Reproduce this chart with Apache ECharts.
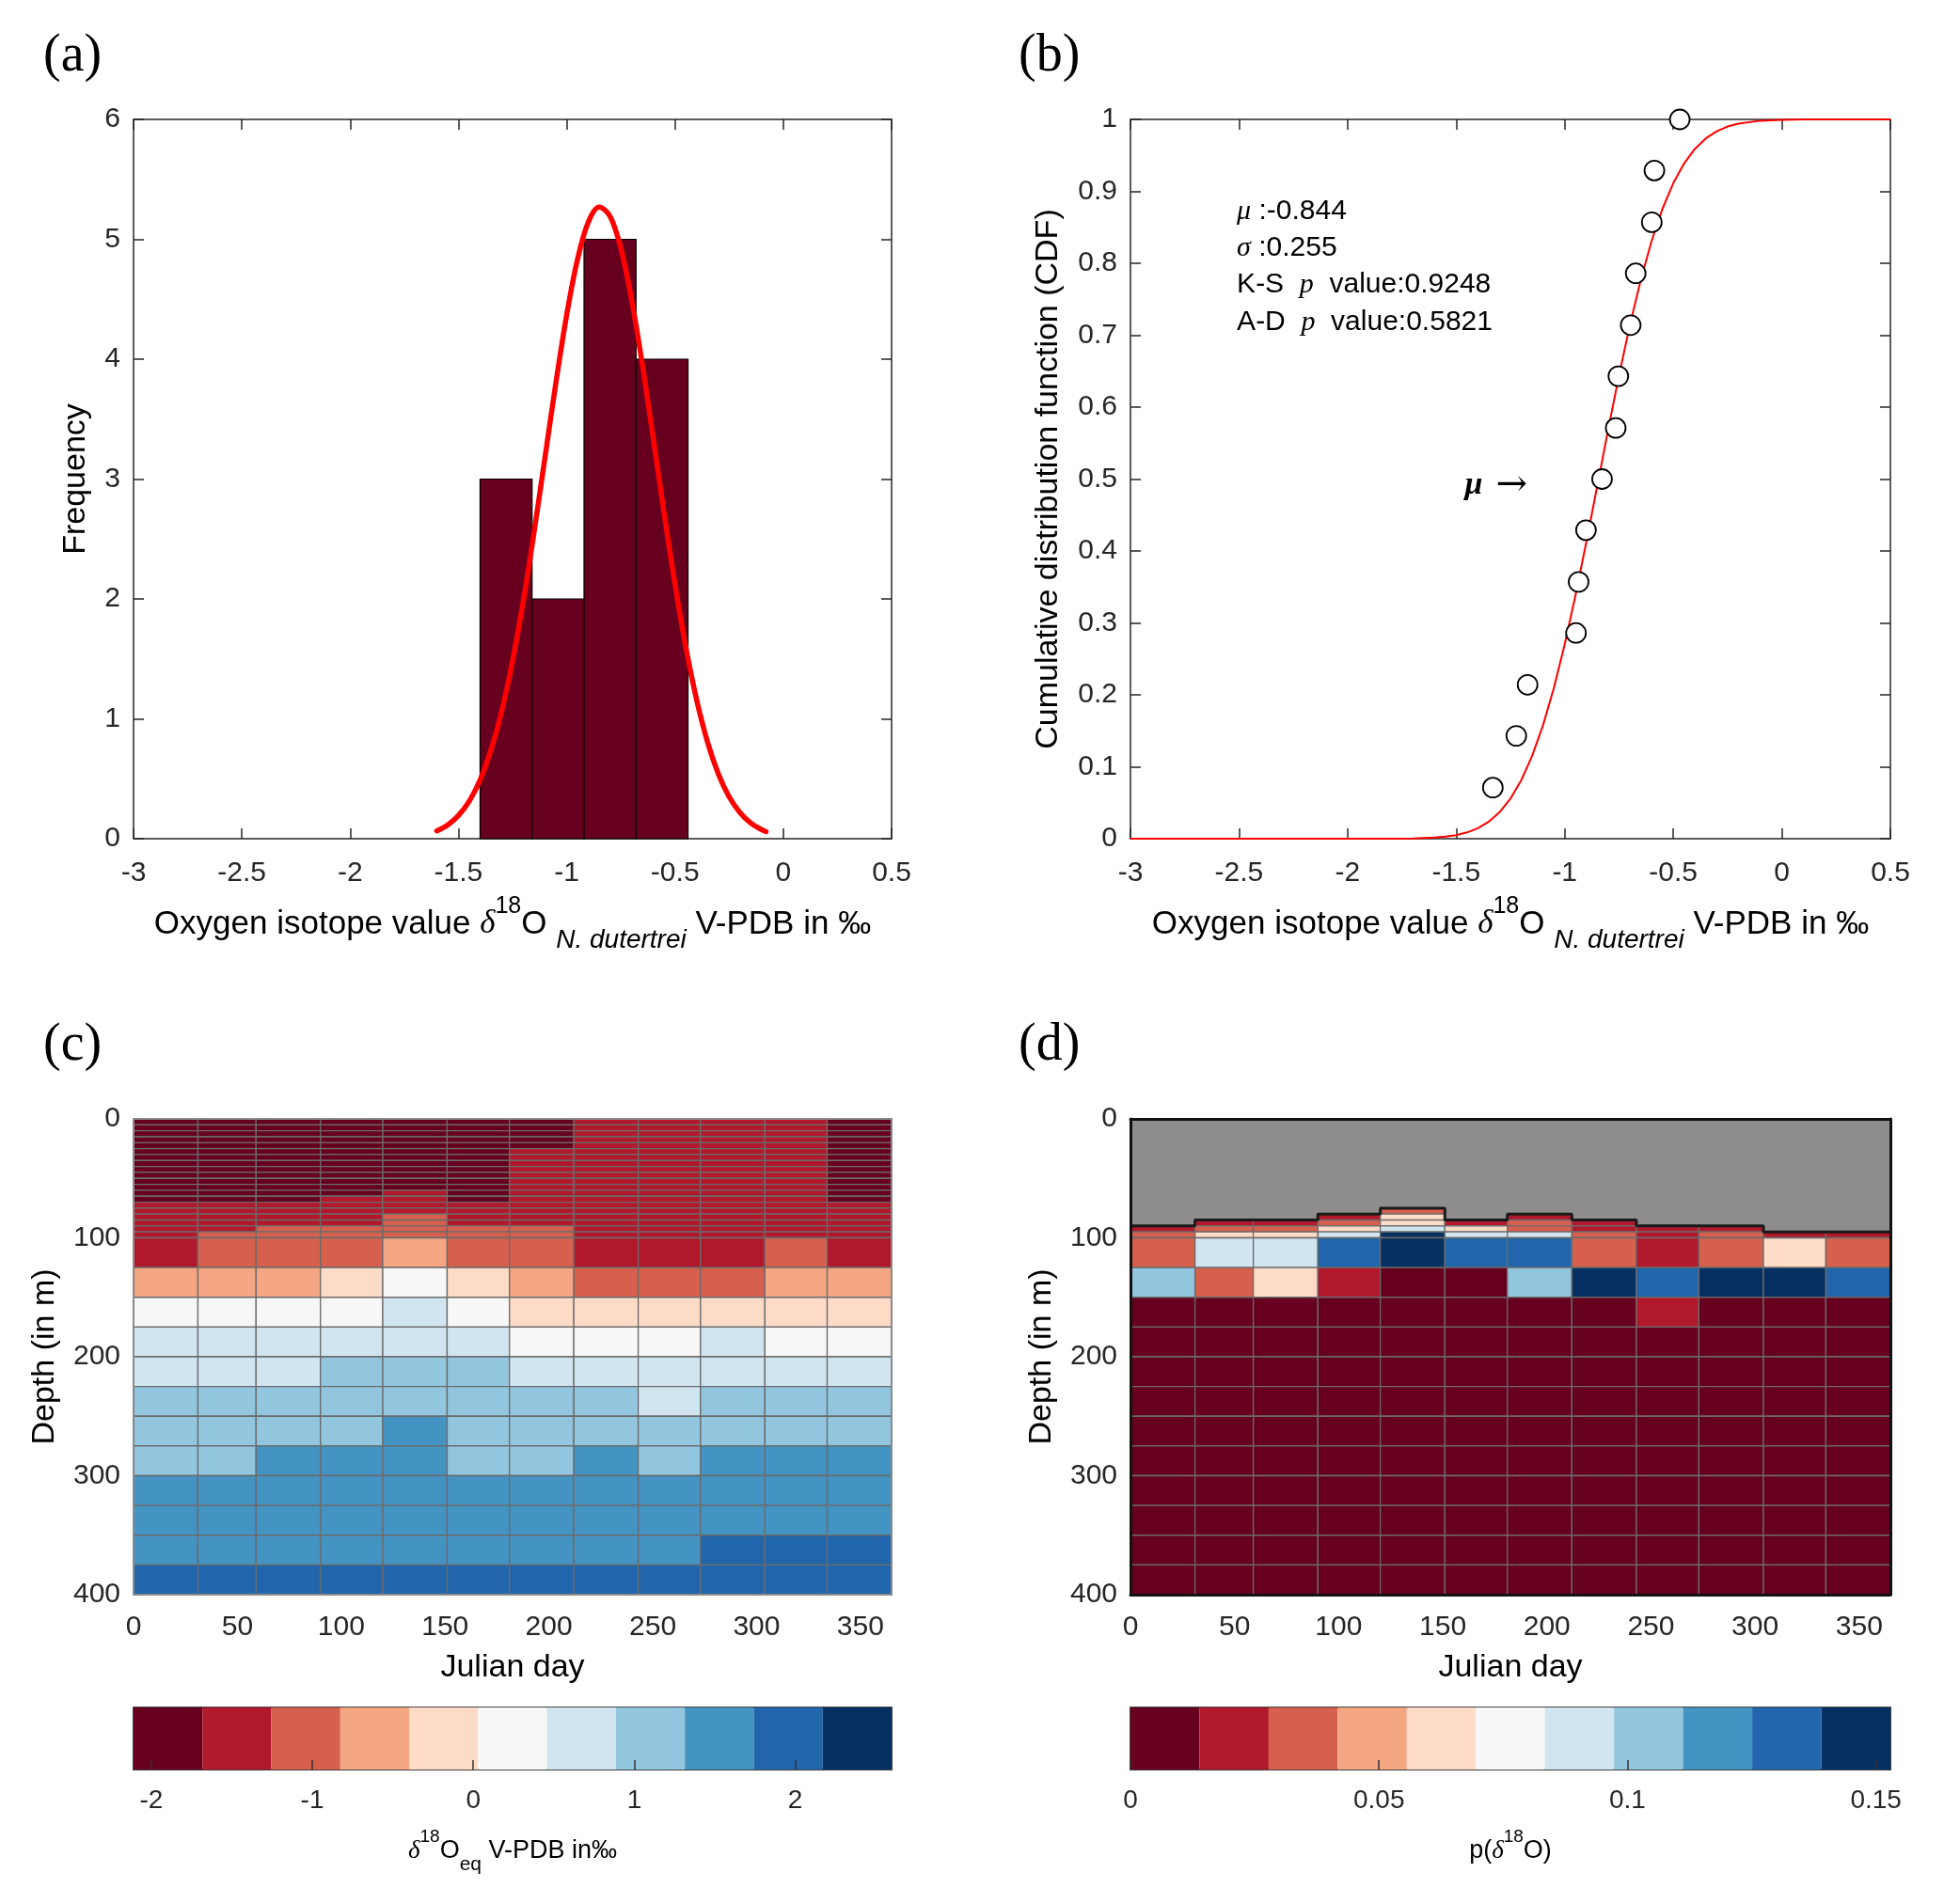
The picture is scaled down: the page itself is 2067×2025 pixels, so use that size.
<!DOCTYPE html>
<html><head><meta charset="utf-8">
<script src="https://cdn.jsdelivr.net/npm/echarts@6/dist/echarts.min.js"></script>
<style>html,body{margin:0;padding:0;background:#fff}#main{width:2067px;height:2025px}</style>
</head><body><div id="main"></div>
<script>
// ================= DATA =================
// (a) histogram of the 14 N. dutertrei measurements
const histEdges = [-1.40, -1.16, -0.92, -0.68, -0.44];
const histCounts = [3, 2, 5, 4];
// (a) fitted normal curve (scaled to counts)
const fitX = [-1.60,-1.55,-1.50,-1.45,-1.40,-1.35,-1.30,-1.25,-1.20,-1.15,-1.10,-1.05,-1.00,-0.95,-0.90,-0.85,-0.80,-0.75,-0.70,-0.65,-0.60,-0.55,-0.50,-0.45,-0.40,-0.35,-0.30,-0.25,-0.20,-0.15,-0.10,-0.08];
const fitY = [0.065,0.114,0.193,0.313,0.489,0.736,1.065,1.485,1.988,2.566,3.184,3.802,4.370,4.834,5.145,5.268,5.192,4.924,4.493,3.946,3.334,2.711,2.121,1.598,1.157,0.807,0.542,0.349,0.218,0.130,0.075,0.059];
// (b) empirical CDF points
const sampleX = [-1.331,-1.223,-1.171,-0.948,-0.936,-0.902,-0.828,-0.765,-0.753,-0.696,-0.673,-0.599,-0.587,-0.470];
const sampleCDF = [0.071,0.143,0.214,0.286,0.357,0.429,0.500,0.571,0.643,0.714,0.786,0.857,0.929,1.000];
// (b) fitted normal CDF curve
const cdfX = [-3,-2,-1.8,-1.7,-1.6,-1.55,-1.5,-1.45,-1.4,-1.35,-1.3,-1.25,-1.2,-1.15,-1.1,-1.05,-1.0,-0.95,-0.9,-0.85,-0.8,-0.75,-0.7,-0.65,-0.6,-0.55,-0.5,-0.45,-0.4,-0.35,-0.3,-0.25,-0.2,-0.1,0,0.1,0.5];
const cdfY = [0,0,0.0001,0.0004,0.0015,0.0028,0.0050,0.0087,0.0146,0.0236,0.0369,0.0557,0.0814,0.1151,0.1577,0.2096,0.2703,0.3388,0.4131,0.4906,0.5685,0.6438,0.7139,0.7766,0.8307,0.8755,0.9113,0.9388,0.9592,0.9736,0.9835,0.9901,0.9942,0.9982,0.9995,0.9999,1];
const muFit = -0.844;
const sigmaFit = 0.255;
const ksP = 0.9248;
const adP = 0.5821;

// (c),(d) grid: months (Julian day edges) x depth levels
const monthEdges = [0,31,59,90,120,151,181,212,243,273,304,334,365];
const depthEdges = [0,5,10,15,20,25,30,35,40,45,50,55,60,65,70,75,80,85,90,95,100,125,150,175,200,225,250,275,300,325,350,375,400];

// (c) equilibrium d18O (per mil V-PDB), rows = depth layers, cols = months
const d18Oeq = [
 [-1.90,-1.90,-1.90,-1.90,-1.90,-1.90,-1.90,-1.47,-1.47,-1.47,-1.47,-1.90],
 [-1.90,-1.90,-1.90,-1.90,-1.90,-1.90,-1.90,-1.47,-1.47,-1.47,-1.47,-1.90],
 [-1.90,-1.90,-1.90,-1.90,-1.90,-1.90,-1.90,-1.47,-1.47,-1.47,-1.47,-1.90],
 [-1.90,-1.90,-1.90,-1.90,-1.90,-1.90,-1.90,-1.47,-1.47,-1.47,-1.47,-1.90],
 [-1.90,-1.90,-1.90,-1.90,-1.90,-1.90,-1.90,-1.47,-1.47,-1.47,-1.47,-1.90],
 [-1.90,-1.90,-1.90,-1.90,-1.90,-1.90,-1.47,-1.47,-1.47,-1.47,-1.47,-1.90],
 [-1.90,-1.90,-1.90,-1.90,-1.90,-1.90,-1.47,-1.47,-1.47,-1.47,-1.47,-1.90],
 [-1.90,-1.90,-1.90,-1.90,-1.90,-1.90,-1.47,-1.47,-1.47,-1.47,-1.47,-1.90],
 [-1.90,-1.90,-1.90,-1.90,-1.90,-1.90,-1.47,-1.47,-1.47,-1.47,-1.47,-1.90],
 [-1.90,-1.90,-1.90,-1.90,-1.90,-1.90,-1.47,-1.47,-1.47,-1.47,-1.47,-1.90],
 [-1.90,-1.90,-1.90,-1.90,-1.90,-1.90,-1.47,-1.47,-1.47,-1.47,-1.47,-1.90],
 [-1.90,-1.90,-1.90,-1.90,-1.90,-1.90,-1.47,-1.47,-1.47,-1.47,-1.47,-1.90],
 [-1.90,-1.90,-1.90,-1.90,-1.47,-1.90,-1.47,-1.47,-1.47,-1.47,-1.47,-1.90],
 [-1.90,-1.90,-1.90,-1.47,-1.47,-1.90,-1.47,-1.47,-1.47,-1.47,-1.47,-1.90],
 [-1.47,-1.47,-1.47,-1.47,-1.47,-1.47,-1.47,-1.47,-1.47,-1.47,-1.47,-1.47],
 [-1.47,-1.47,-1.47,-1.47,-1.47,-1.47,-1.47,-1.47,-1.47,-1.47,-1.47,-1.47],
 [-1.47,-1.47,-1.47,-1.47,-1.04,-1.47,-1.47,-1.47,-1.47,-1.47,-1.47,-1.47],
 [-1.47,-1.47,-1.47,-1.47,-1.04,-1.47,-1.47,-1.47,-1.47,-1.47,-1.47,-1.47],
 [-1.47,-1.47,-1.04,-1.04,-1.04,-1.04,-1.04,-1.47,-1.47,-1.47,-1.47,-1.47],
 [-1.47,-1.04,-1.04,-1.04,-1.04,-1.04,-1.04,-1.47,-1.47,-1.47,-1.47,-1.47],
 [-1.47,-1.04,-1.04,-1.04,-0.61,-1.04,-1.04,-1.47,-1.47,-1.47,-1.04,-1.47],
 [-0.61,-0.61,-0.61,-0.18, 0.24,-0.18,-0.61,-1.04,-1.04,-1.04,-0.61,-0.61],
 [ 0.24, 0.24, 0.24, 0.24, 0.67, 0.24,-0.18,-0.18,-0.18,-0.18,-0.18,-0.18],
 [ 0.67, 0.67, 0.67, 0.67, 0.67, 0.67, 0.24, 0.24, 0.24, 0.67, 0.24, 0.24],
 [ 0.67, 0.67, 0.67, 1.10, 1.10, 1.10, 0.67, 0.67, 0.67, 0.67, 0.67, 0.67],
 [ 1.10, 1.10, 1.10, 1.10, 1.10, 1.10, 1.10, 1.10, 0.67, 1.10, 1.10, 1.10],
 [ 1.10, 1.10, 1.10, 1.10, 1.53, 1.10, 1.10, 1.10, 1.10, 1.10, 1.10, 1.10],
 [ 1.10, 1.10, 1.53, 1.53, 1.53, 1.10, 1.10, 1.53, 1.10, 1.53, 1.53, 1.53],
 [ 1.53, 1.53, 1.53, 1.53, 1.53, 1.53, 1.53, 1.53, 1.53, 1.53, 1.53, 1.53],
 [ 1.53, 1.53, 1.53, 1.53, 1.53, 1.53, 1.53, 1.53, 1.53, 1.53, 1.53, 1.53],
 [ 1.53, 1.53, 1.53, 1.53, 1.53, 1.53, 1.53, 1.53, 1.53, 1.96, 1.96, 1.96],
 [ 1.96, 1.96, 1.96, 1.96, 1.96, 1.96, 1.96, 1.96, 1.96, 1.96, 1.96, 1.96]
];

// (d) probability p(d18O); null = above the shallowest possible habitat depth (grey)
const n = null;
const pD18O = [
 [n,n,n,n,n,n,n,n,n,n,n,n],
 [n,n,n,n,n,n,n,n,n,n,n,n],
 [n,n,n,n,n,n,n,n,n,n,n,n],
 [n,n,n,n,n,n,n,n,n,n,n,n],
 [n,n,n,n,n,n,n,n,n,n,n,n],
 [n,n,n,n,n,n,n,n,n,n,n,n],
 [n,n,n,n,n,n,n,n,n,n,n,n],
 [n,n,n,n,n,n,n,n,n,n,n,n],
 [n,n,n,n,n,n,n,n,n,n,n,n],
 [n,n,n,n,n,n,n,n,n,n,n,n],
 [n,n,n,n,n,n,n,n,n,n,n,n],
 [n,n,n,n,n,n,n,n,n,n,n,n],
 [n,n,n,n,n,n,n,n,n,n,n,n],
 [n,n,n,n,n,n,n,n,n,n,n,n],
 [n,n,n,n,n,n,n,n,n,n,n,n],
 [n,n,n,n,0.035,n,n,n,n,n,n,n],
 [n,n,n,0.021,0.063,n,0.021,n,n,n,n,n],
 [n,0.021,0.021,0.035,0.063,0.021,0.035,0.021,n,n,n,n],
 [0.021,0.035,0.035,0.063,0.090,0.063,0.035,0.021,0.021,0.021,n,n],
 [0.035,0.063,0.063,0.090,0.146,0.090,0.090,0.035,0.021,0.035,0.021,0.021],
 [0.035,0.090,0.090,0.132,0.146,0.132,0.132,0.035,0.021,0.035,0.063,0.035],
 [0.104,0.035,0.063,0.021,0.007,0.007,0.104,0.146,0.132,0.146,0.146,0.132],
 [0.007,0.007,0.007,0.007,0.007,0.007,0.007,0.007,0.021,0.007,0.007,0.007],
 [0.003,0.003,0.003,0.003,0.003,0.003,0.003,0.003,0.003,0.003,0.003,0.003],
 [0.002,0.002,0.002,0.002,0.002,0.002,0.002,0.002,0.002,0.002,0.002,0.002],
 [0.001,0.001,0.001,0.001,0.001,0.001,0.001,0.001,0.001,0.001,0.001,0.001],
 [0.001,0.001,0.001,0.001,0.001,0.001,0.001,0.001,0.001,0.001,0.001,0.001],
 [0.000,0.000,0.000,0.000,0.000,0.000,0.000,0.000,0.000,0.000,0.000,0.000],
 [0.000,0.000,0.000,0.000,0.000,0.000,0.000,0.000,0.000,0.000,0.000,0.000],
 [0.000,0.000,0.000,0.000,0.000,0.000,0.000,0.000,0.000,0.000,0.000,0.000],
 [0.000,0.000,0.000,0.000,0.000,0.000,0.000,0.000,0.000,0.000,0.000,0.000],
 [0.000,0.000,0.000,0.000,0.000,0.000,0.000,0.000,0.000,0.000,0.000,0.000]
];
// (d) top of the valid habitat (m) per month
const dataTop = [90,85,85,80,75,85,80,85,90,90,95,95];

// colour bars: 11 classes
const cbEdgesC = [-2.11,-1.682,-1.254,-0.826,-0.398,0.030,0.458,0.886,1.314,1.742,2.170,2.598];
const cbEdgesD = [0,0.0139,0.0278,0.0417,0.0556,0.0695,0.0834,0.0973,0.1112,0.1251,0.1390,0.1529];
const cbTicksC = [-2,-1,0,1,2];
const cbTicksD = [0,0.05,0.1,0.15];

// ================= STYLE =================
const palette = ['#67001F','#B2182B','#D6604D','#F4A582','#FDDBC7','#F7F7F7','#D1E5F0','#92C5DE','#4393C3','#2166AC','#053061'];
const FONT = 'Liberation Sans';
const SERIF = 'Liberation Serif';
const AX = '#262626';

const G = {
  a: {left:142, top:127, width:806, height:765},
  b: {left:1202, top:127, width:808, height:765},
  c: {left:142, top:1190, width:806, height:506},
  d: {left:1202, top:1190, width:808, height:506},
  cc: {left:142, top:1816, width:806, height:66},
  cd: {left:1202, top:1816, width:808, height:66}
};

// ================= BUILD =================
const histData = histCounts.map((c, i) => [histEdges[i], histEdges[i + 1], c]);
const fitData = fitX.map((x, i) => [x, fitY[i]]);
const cdfData = cdfX.map((x, i) => [x, cdfY[i]]);
const sampleData = sampleX.map((x, i) => [x, sampleCDF[i]]);
function cellsFrom(matrix) {
  const out = [];
  matrix.forEach((row, r) => row.forEach((v, m) => {
    if (v !== null) out.push([monthEdges[m], monthEdges[m + 1], depthEdges[r], depthEdges[r + 1], v]);
  }));
  return out;
}
const cellsC = cellsFrom(d18Oeq);
const cellsD = cellsFrom(pD18O);
const greyLine = [];
dataTop.forEach((t, i) => { greyLine.push([monthEdges[i], t]); greyLine.push([monthEdges[i + 1], t]); });
const barC = palette.map((c, i) => [cbEdgesC[i], cbEdgesC[i + 1], i]);
const barD = palette.map((c, i) => [cbEdgesD[i], cbEdgesD[i + 1], i]);
function piecesFrom(edges) { return palette.map((c, i) => ({min: edges[i], max: edges[i + 1], color: c})); }

function rectBetween(api, x0, y0, x1, y1) {
  const p = api.coord([x0, y0]), q = api.coord([x1, y1]);
  return {x: Math.min(p[0], q[0]), y: Math.min(p[1], q[1]), width: Math.abs(q[0] - p[0]), height: Math.abs(q[1] - p[1])};
}
function renderCell(params, api) {
  return {type: 'rect', shape: rectBetween(api, api.value(0), api.value(2), api.value(1), api.value(3)),
    style: {fill: api.visual('color'), stroke: '#6b6b6b', lineWidth: 1.3}};
}
function renderBar(params, api) {
  return {type: 'rect', shape: rectBetween(api, api.value(0), 0, api.value(1), api.value(2)),
    style: {fill: '#67001F', stroke: '#000', lineWidth: 1.2}};
}
function renderCb(params, api) {
  return {type: 'rect', shape: rectBetween(api, api.value(0), 0, api.value(1), 1),
    style: {fill: palette[api.value(2)], stroke: null}};
}

const lbl = {fontSize: 30, color: AX, fontFamily: FONT};
const nameRich = {
  t: {fontSize: 35, fontFamily: FONT, color: '#000', lineHeight: 62},
  g: {fontSize: 35, fontFamily: SERIF, fontStyle: 'italic', color: '#000', lineHeight: 62},
  sup: {fontSize: 25, fontFamily: FONT, color: '#000', verticalAlign: 'top', lineHeight: 38},
  sub: {fontSize: 28, fontFamily: FONT, fontStyle: 'italic', color: '#000', verticalAlign: 'bottom', lineHeight: 30}
};
const isoName = '{t|Oxygen isotope value }{g|δ}{sup|18}{t|O }{sub|N. dutertrei}{t| V-PDB in ‰}';

function boxX(grid, min, max, interval, withLabels, name) {
  const ax = {type: 'value', gridIndex: grid, min, max, interval, position: withLabels ? 'bottom' : 'top',
    axisLine: {show: true, onZero: false, lineStyle: {color: AX, width: 1.5}},
    axisTick: {show: true, inside: true, length: 11, lineStyle: {color: AX, width: 1.5}},
    axisLabel: withLabels ? Object.assign({margin: 22}, lbl) : {show: false},
    splitLine: {show: false}};
  if (name) Object.assign(ax, {name, nameLocation: 'middle', nameGap: 60, nameTextStyle: {rich: nameRich}});
  return ax;
}
function boxY(grid, min, max, interval, withLabels, name, gap) {
  const ax = {type: 'value', gridIndex: grid, min, max, interval, position: withLabels ? 'left' : 'right',
    axisLine: {show: true, onZero: false, lineStyle: {color: AX, width: 1.5}},
    axisTick: {show: true, inside: true, length: 11, lineStyle: {color: AX, width: 1.5}},
    axisLabel: withLabels ? Object.assign({margin: 14}, lbl) : {show: false},
    splitLine: {show: false}};
  if (name) Object.assign(ax, {name, nameLocation: 'middle', nameGap: gap, nameTextStyle: {fontSize: 34, color: '#000', fontFamily: FONT}});
  return ax;
}
function mapX(grid, withLabels, lineColor, lineW) {
  return {type: 'value', gridIndex: grid, min: 0, max: 365, interval: 50, position: withLabels ? 'bottom' : 'top', z: 10,
    axisLine: {show: true, onZero: false, lineStyle: {color: lineColor, width: lineW}},
    axisTick: {show: false},
    axisLabel: withLabels ? Object.assign({margin: 20}, lbl) : {show: false},
    splitLine: {show: false},
    name: withLabels ? 'Julian day' : '', nameLocation: 'middle', nameGap: 61,
    nameTextStyle: {fontSize: 34, color: '#000', fontFamily: FONT}};
}
function mapY(grid, withLabels, lineColor, lineW) {
  return {type: 'value', gridIndex: grid, min: 0, max: 400, interval: 100, inverse: true, position: withLabels ? 'left' : 'right', z: 10,
    axisLine: {show: true, onZero: false, lineStyle: {color: lineColor, width: lineW}},
    axisTick: {show: false},
    axisLabel: withLabels ? Object.assign({margin: 14}, lbl) : {show: false},
    splitLine: {show: false},
    name: withLabels ? 'Depth (in m)' : '', nameLocation: 'middle', nameGap: 77,
    nameTextStyle: {fontSize: 34, color: '#000', fontFamily: FONT}};
}
function cbX(grid, edges, ticks, name) {
  return {type: 'value', gridIndex: grid, min: edges[0], max: edges[edges.length - 1], z: 10,
    axisLine: {show: false},
    axisTick: {show: true, inside: true, length: 10, customValues: ticks, lineStyle: {color: '#333', width: 1.5}},
    axisLabel: {customValues: ticks, fontSize: 28, color: AX, fontFamily: FONT, margin: 19},
    splitLine: {show: false},
    name, nameLocation: 'middle', nameGap: 62,
    nameTextStyle: {rich: {
      t: {fontSize: 27, fontFamily: FONT, color: '#000', lineHeight: 50},
      g: {fontSize: 27, fontFamily: SERIF, fontStyle: 'italic', color: '#000', lineHeight: 50},
      sup: {fontSize: 19, fontFamily: FONT, color: '#000', verticalAlign: 'top', lineHeight: 30},
      sub: {fontSize: 21, fontFamily: FONT, color: '#000', verticalAlign: 'bottom', lineHeight: 22}
    }}};
}

const option = {
  backgroundColor: '#fff',
  animation: false,
  textStyle: {fontFamily: FONT},
  grid: [
    Object.assign({}, G.a), Object.assign({}, G.b), Object.assign({}, G.c), Object.assign({}, G.d),
    Object.assign({show: true, borderColor: '#444', borderWidth: 2, backgroundColor: 'transparent'}, G.cc),
    Object.assign({show: true, borderColor: '#444', borderWidth: 2, backgroundColor: 'transparent'}, G.cd)
  ],
  xAxis: [
    boxX(0, -3, 0.5, 0.5, true, isoName),   // 0
    boxX(0, -3, 0.5, 0.5, false),           // 1
    boxX(1, -3, 0.5, 0.5, true, isoName),   // 2
    boxX(1, -3, 0.5, 0.5, false),           // 3
    mapX(2, true, '#8a8a8a', 2),             // 4
    mapX(3, true, '#111', 3),                // 5
    cbX(4, cbEdgesC, cbTicksC, '{g|δ}{sup|18}{t|O}{sub|eq}{t| V-PDB in‰}'), // 6
    cbX(5, cbEdgesD, cbTicksD, '{t|p(}{g|δ}{sup|18}{t|O)}'),                 // 7
    mapX(3, false, '#111', 3),               // 8
    mapX(2, false, '#8a8a8a', 2)             // 9
  ],
  yAxis: [
    boxY(0, 0, 6, 1, true, 'Frequency', 44),   // 0
    boxY(0, 0, 6, 1, false),                   // 1
    boxY(1, 0, 1, 0.1, true, 'Cumulative distribution function (CDF)', 70), // 2
    boxY(1, 0, 1, 0.1, false),                 // 3
    mapY(2, true, '#8a8a8a', 2),               // 4
    mapY(3, true, '#111', 3),                  // 5
    {type: 'value', gridIndex: 4, min: 0, max: 1, show: false}, // 6
    {type: 'value', gridIndex: 5, min: 0, max: 1, show: false}, // 7
    mapY(3, false, '#111', 3),                 // 8
    mapY(2, false, '#8a8a8a', 2)               // 9
  ],
  visualMap: [
    {type: 'piecewise', show: false, seriesIndex: 4, dimension: 4, pieces: piecesFrom(cbEdgesC)},
    {type: 'piecewise', show: false, seriesIndex: 5, dimension: 4, pieces: piecesFrom(cbEdgesD)}
  ],
  series: [
    {type: 'custom', name: 'histogram', xAxisIndex: 0, yAxisIndex: 0, renderItem: renderBar, data: histData, encode: {x: [0, 1], y: 2}},
    {type: 'line', name: 'normal fit', xAxisIndex: 0, yAxisIndex: 0, data: fitData, showSymbol: false, symbol: 'none', smooth: 0.35,
      lineStyle: {color: '#FF0000', width: 5.5, cap: 'round', join: 'round'}, z: 5},
    {type: 'line', name: 'normal CDF', xAxisIndex: 2, yAxisIndex: 2, data: cdfData, showSymbol: false, symbol: 'none',
      lineStyle: {color: '#FF0000', width: 2, join: 'round'}, z: 3},
    {type: 'scatter', name: 'empirical CDF', xAxisIndex: 2, yAxisIndex: 2, data: sampleData, symbol: 'circle', symbolSize: 21, clip: false,
      itemStyle: {color: '#fff', borderColor: '#000', borderWidth: 1.8, opacity: 1}, z: 6},
    {type: 'custom', name: 'd18Oeq', xAxisIndex: 4, yAxisIndex: 4, renderItem: renderCell, data: cellsC, encode: {x: [0, 1], y: [2, 3]}},
    {type: 'custom', name: 'p(d18O)', xAxisIndex: 5, yAxisIndex: 5, renderItem: renderCell, data: cellsD, encode: {x: [0, 1], y: [2, 3]}},
    {type: 'line', name: 'habitat top', xAxisIndex: 5, yAxisIndex: 5, data: greyLine, showSymbol: false, symbol: 'none',
      lineStyle: {color: '#1a1a1a', width: 3}, areaStyle: {color: '#8e8c8c', opacity: 1, origin: 'start'}, z: 4},
    {type: 'custom', name: 'cbar c', xAxisIndex: 6, yAxisIndex: 6, renderItem: renderCb, data: barC, encode: {x: [0, 1]}},
    {type: 'custom', name: 'cbar d', xAxisIndex: 7, yAxisIndex: 7, renderItem: renderCb, data: barD, encode: {x: [0, 1]}}
  ]
};

const chart = echarts.init(document.getElementById('main'), null, {renderer: 'canvas'});
chart.setOption(option);

// annotations and panel letters
const annX = -2.51;
const annY = [0.872, 0.821, 0.770, 0.718];
const annRich = {
  g: {fontSize: 30, fontFamily: SERIF, fontStyle: 'italic', fill: '#000'},
  i: {fontSize: 30, fontFamily: SERIF, fontStyle: 'italic', fill: '#000'}
};
const annTexts = [
  '{g|μ} :' + muFit.toFixed(3),
  '{g|σ} :' + sigmaFit.toFixed(3),
  'K-S  {i|p}  value:' + ksP.toFixed(4),
  'A-D  {i|p}  value:' + adP.toFixed(4)
];
const graphics = annTexts.map((t, k) => {
  const p = chart.convertToPixel({xAxisIndex: 2, yAxisIndex: 2}, [annX, annY[k]]);
  return {type: 'text', x: p[0], y: p[1], z: 50,
    style: {text: t, fontSize: 30, fontFamily: FONT, fill: '#000', verticalAlign: 'middle', align: 'left', rich: annRich}};
});
const muPos = chart.convertToPixel({xAxisIndex: 2, yAxisIndex: 2}, [-1.46, 0.491]);
graphics.push({type: 'text', x: muPos[0], y: muPos[1], z: 50,
  style: {text: '{m|μ}{s| }{a|→}', verticalAlign: 'middle', align: 'left',
    rich: {m: {fontSize: 34, fontFamily: SERIF, fontStyle: 'italic', fontWeight: 'bold', fill: '#000'},
           s: {fontSize: 34, fontFamily: SERIF, width: 14},
           a: {fontSize: 40, fontFamily: 'DejaVu Serif', fontWeight: 'normal', fill: '#000'}}}});
[['(a)', 46, 60], ['(b)', 1083, 60], ['(c)', 46, 1112], ['(d)', 1083, 1112]].forEach(l => {
  graphics.push({type: 'text', x: l[1], y: l[2], z: 50,
    style: {text: l[0], fontSize: 56, fontFamily: SERIF, fill: '#000', verticalAlign: 'middle', align: 'left'}});
});
chart.setOption({graphic: graphics});
</script>
</body></html>
